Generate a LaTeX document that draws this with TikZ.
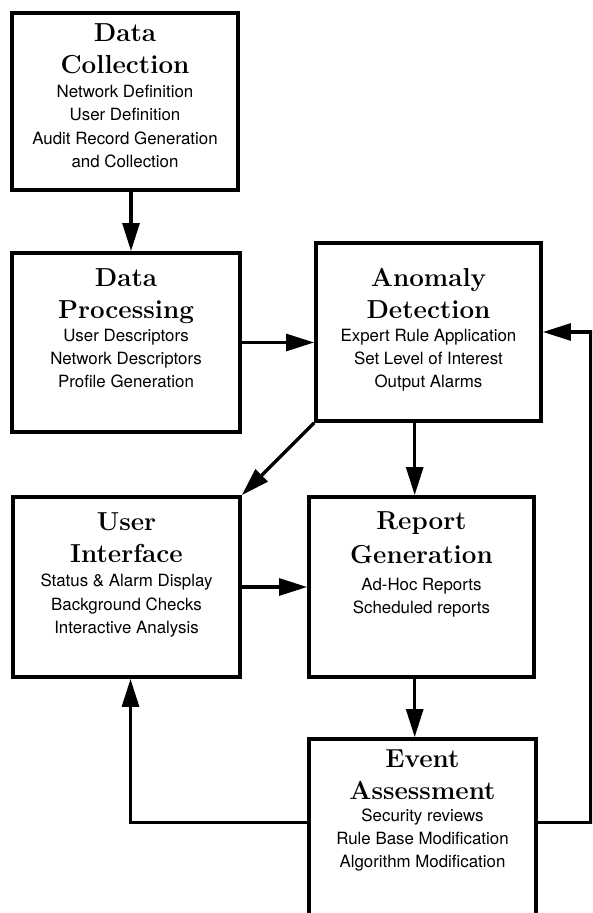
\documentclass[tikz,border=0pt]{standalone}
\usepackage{fontspec}
\usepackage{tikz}
\usetikzlibrary{arrows.meta}
\newfontfamily\heros{TeX Gyre Heros}
\newcommand{\hd}{\fontsize{18.5}{23.5}\selectfont\rmfamily\bfseries}
\newcommand{\bd}{\heros\mdseries\fontsize{12}{16.4}\selectfont}
\tikzset{
	blockbox/.style={draw, line width=2.6pt, inner sep=0pt},
	blocktext/.style={anchor=north, align=center, inner sep=0pt, font=\bd},
	flow/.style={line width=2.4pt, -{Triangle[length=0.7cm, width=0.42cm]}}
}

\begin{document}
\begin{tikzpicture}
			%%%%% START %%%%%
			
			\useasboundingbox (0, 0) rectangle (14.8, 22.825);
			\clip (0, 0) rectangle (14.8, 22.825);
			
			\node[blockbox, minimum width=5.65cm, minimum height=4.425cm] (dc) at (3.125, 20.2875) {};
			\node[blockbox, minimum width=5.7cm, minimum height=4.475cm] (dp) at (3.15, 14.2625) {};
			\node[blockbox, minimum width=5.625cm, minimum height=4.45cm] (ad) at (10.7125, 14.525) {};
			\node[blockbox, minimum width=5.675cm, minimum height=4.5cm] (ui) at (3.1625, 8.15) {};
			\node[blockbox, minimum width=5.625cm, minimum height=4.5cm] (rg) at (10.5375, 8.15) {};
			\node[blockbox, minimum width=5.675cm, minimum height=4.775cm] (ea) at (10.5625, 1.9625) {};
			
			\node[blocktext] (dctext) at ([yshift=-0.3cm]dc.north) {\hd Data\\[6.5pt]\hd Collection\\[1pt]\bd Network Definition\\User Definition\\Audit Record Generation\\and Collection};
			\node[blocktext] (dptext) at ([yshift=-0.425cm]dp.north) {\hd Data\\[6.5pt]\hd Processing\\[0pt]\bd User Descriptors\\Network Descriptors\\Profile Generation};
			\node[blocktext] (adtext) at ([yshift=-0.675cm]ad.north) {\hd Anomaly\\[6.5pt]\hd Detection\\[-0.5pt]\bd Expert Rule Application\\Set Level of Interest\\Output Alarms};
			\node[blocktext] (uitext) at ([yshift=-0.425cm]ui.north) {\hd User\\[6.5pt]\hd Interface\\[1pt]\bd Status \& Alarm Display\\Background Checks\\Interactive Analysis};
			\node[blocktext] (rgtext) at ([yshift=-0.4cm]rg.north) {\hd Report\\[6.5pt]\hd Generation\\[3pt]\bd Ad-Hoc Reports\\Scheduled reports};
			\node[blocktext] (eatext) at ([yshift=-0.3cm]ea.north) {\hd Event\\[6.5pt]\hd Assessment\\[-1pt]\bd Security reviews\\Rule Base Modification\\Algorithm Modification};
			
			\draw[flow] ([xshift=0.15cm]dc.south) -- ([xshift=0.15cm]dc.south |- dp.north);
			\draw[flow] (dp.east) -- (dp.east -| ad.west);
			\draw[flow] (ad.south west) -- (ui.north east);
			\draw[flow] ([xshift=-0.17cm]ad.south -| rg.north) -- ([xshift=-0.17cm]rg.north);
			\draw[flow] (ui.east) -- (rg.west);
			\draw[flow] ([xshift=-0.17cm]rg.south) -- ([xshift=-0.17cm]rg.south |- ea.north);
			
			\draw[flow] ([yshift=0.3cm]ea.west) -| ([xshift=0.1cm]ui.south);
			\draw[flow] ([yshift=0.3cm]ea.east) -| ([xshift=1.2cm]ad.east) -- (ad.east);
			
			%%%%% END %%%%%
\end{tikzpicture}
\end{document}
